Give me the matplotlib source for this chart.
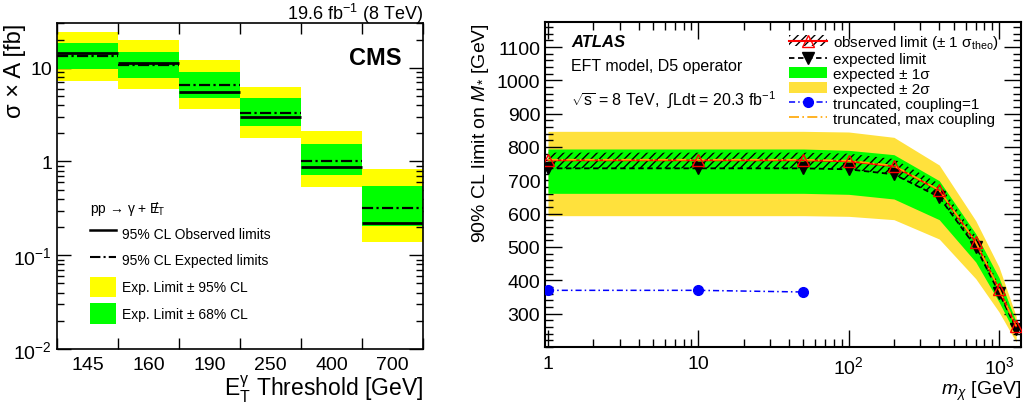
import matplotlib
matplotlib.use("Agg")
import matplotlib.pyplot as plt
import numpy as np
from matplotlib.lines import Line2D
from matplotlib.patches import Patch
from matplotlib.ticker import FixedLocator, FuncFormatter, MultipleLocator, LogLocator, NullFormatter

plt.rcParams['font.family'] = ['Liberation Sans', 'DejaVu Sans']
plt.rcParams['mathtext.fontset'] = 'custom'
plt.rcParams['mathtext.rm'] = 'Liberation Sans'
plt.rcParams['mathtext.it'] = 'Liberation Sans:italic'
plt.rcParams['mathtext.bf'] = 'Liberation Sans:bold'
plt.rcParams['hatch.linewidth'] = 1.0

# ---------------- CMS data ----------------
cms_thresholds = ["145", "160", "190", "250", "400", "700"]
cms_observed = [14.2, 11.1, 5.45, 3.0, 0.88, 0.223]
cms_expected = [13.3, 10.6, 6.5, 3.27, 1.0, 0.32]
cms_green_hi = [18.2, 14.8, 9.1, 4.7, 1.52, 0.545]
cms_green_lo = [9.6, 7.8, 4.7, 2.38, 0.72, 0.204]
cms_yellow_hi = [24.2, 19.7, 12.1, 6.3, 2.14, 0.84]
cms_yellow_lo = [7.3, 5.9, 3.6, 1.79, 0.53, 0.139]

# ---------------- ATLAS data ----------------
atlas_mchi = [1, 10, 50, 100, 200, 400, 700, 1000, 1300]
atlas_observed = [760, 760, 760, 757, 742, 670, 514, 373, 262]
atlas_theo_up = [783, 783, 783, 780, 764, 690, 532, 385, 270]
atlas_theo_dn = [736, 736, 736, 733, 717, 648, 497, 360, 252]
atlas_expected = [736, 736, 736, 733, 718, 650, 500, 363, 255]
atlas_green_hi = [794, 794, 794, 790, 777, 699, 540, 408, 275]
atlas_green_lo = [661, 661, 661, 658, 644, 582, 455, 335, 235]
atlas_yellow_hi = [847, 847, 847, 845, 829, 746, 579, 440, 292]
atlas_yellow_lo = [594, 594, 594, 592, 582, 524, 405, 305, 215]
trunc_c1_mchi = [1, 10, 50]
trunc_c1_vals = [370, 370, 365]
trunc_max_mchi = [1, 10, 50, 100, 200, 400, 700, 1000, 1300]
trunc_max_vals = [762, 762, 762, 759, 744, 671, 515, 374, 263]

W, H = 1030, 410
fig = plt.figure(figsize=(W / 100, H / 100), dpi=100)

# ================= Left: CMS =================
ax1 = fig.add_axes([57 / W, (H - 350) / H, 366 / W, 326 / H])
nb = len(cms_thresholds)
edges = np.arange(nb + 1)
CMS_YEL = '#ffff00'
CMS_GRN = '#00ff00'
CMS_DASH = (0, (5, 1.5, 1, 1.5))
for i in range(nb):
    ax1.fill_between([edges[i], edges[i + 1]], cms_yellow_lo[i], cms_yellow_hi[i],
                     color=CMS_YEL, lw=0, zorder=1)
    ax1.fill_between([edges[i], edges[i + 1]], cms_green_lo[i], cms_green_hi[i],
                     color=CMS_GRN, lw=0, zorder=2)
    ax1.hlines(cms_observed[i], edges[i], edges[i + 1], color='black', lw=2.0, zorder=4)
    ax1.hlines(cms_expected[i], edges[i], edges[i + 1], color='black', lw=1.6,
               linestyles=CMS_DASH, zorder=3)
ax1.set_yscale('log')
ax1.set_ylim(0.01, 30)
ax1.set_xlim(0, nb)
ax1.xaxis.set_major_locator(FixedLocator(edges))
ax1.xaxis.set_major_formatter(NullFormatter())
ax1.xaxis.set_minor_locator(FixedLocator(np.arange(nb) + 0.5))
ax1.set_xticklabels(cms_thresholds, minor=True)
ax1.tick_params(axis='x', which='major', direction='in', length=8, width=1, top=True, bottom=True)
ax1.tick_params(axis='x', which='minor', length=0, labelsize=14, pad=5)
ax1.yaxis.set_major_locator(FixedLocator([0.01, 0.1, 1, 10]))
ax1.yaxis.set_major_formatter(FuncFormatter(
    lambda v, p: {0.01: r'$10^{-2}$', 0.1: r'$10^{-1}$', 1: '1', 10: '10'}.get(round(v, 2), '')))
ax1.yaxis.set_minor_locator(LogLocator(base=10, subs=np.arange(2, 10)))
ax1.yaxis.set_minor_formatter(NullFormatter())
ax1.tick_params(axis='y', which='major', direction='in', length=10, width=1, left=True, right=True, labelsize=14)
ax1.tick_params(axis='y', which='minor', direction='in', length=5, width=1, left=True, right=True)
for s in ax1.spines.values():
    s.set_linewidth(1.2)
ax1.set_xlabel(r'E$_{\mathrm{T}}^{\mathrm{γ}}$ Threshold [GeV]', fontsize=16.5, loc='right', labelpad=0)
ax1.set_ylabel('σ × A [fb]', fontsize=17, loc='top')
ax1.yaxis.set_label_coords(-0.085, 1.0)
ax1.set_title(r'19.6 fb$^{-1}$ (8 TeV)', loc='right', fontsize=13, pad=3)
ax1.text(0.94, 0.93, 'CMS', transform=ax1.transAxes, fontsize=17, fontweight='bold',
         ha='right', va='top')

h_obs = Line2D([], [], color='black', lw=1.8)
h_exp = Line2D([], [], color='black', lw=1.5, ls=CMS_DASH)
h_y = Patch(facecolor=CMS_YEL, edgecolor='none')
h_g = Patch(facecolor=CMS_GRN, edgecolor='none')
leg1 = ax1.legend([h_obs, h_exp, h_y, h_g],
                  ['95% CL Observed limits', '95% CL Expected limits',
                   'Exp. Limit ± 95% CL', 'Exp. Limit ± 68% CL'],
                  title='pp → γ + E$\\!\\!\\!/_{\\mathrm{T}}$',
                  loc='lower left', bbox_to_anchor=(0.075, 0.06), frameon=False,
                  fontsize=10, title_fontsize=10, handlelength=1.9, handleheight=1.9,
                  labelspacing=0.45, handletextpad=0.4, borderaxespad=0)
leg1._legend_box.align = 'left'

# ================= Right: ATLAS =================
ax2 = fig.add_axes([545 / W, (H - 348) / H, 476 / W, 325 / H])
ATL_YEL = '#ffe13c'
ATL_GRN = '#00ff00'
OBS_DASH = (0, (3, 2))
C1_DASH = (0, (4, 2, 1, 2))
MAX_DASH = (0, (6, 2, 1, 2))
ax2.fill_between(atlas_mchi, atlas_yellow_lo, atlas_yellow_hi, color=ATL_YEL, lw=0, zorder=1)
ax2.fill_between(atlas_mchi, atlas_green_lo, atlas_green_hi, color=ATL_GRN, lw=0, zorder=2)
ax2.fill_between(atlas_mchi, atlas_theo_dn, atlas_theo_up, facecolor='none', edgecolor='black',
                 hatch='////', lw=0, zorder=3)
ax2.plot(atlas_mchi, atlas_expected, color='black', ls=OBS_DASH, lw=1.3, zorder=4)
ax2.plot(atlas_mchi, atlas_expected, ls='none', marker='v', ms=8, color='black', zorder=5)
ax2.plot(atlas_mchi, atlas_observed, color='red', lw=1.3, zorder=6)
ax2.plot(atlas_mchi, atlas_observed, ls='none', marker='^', ms=8.5, markerfacecolor='none',
         markeredgecolor='red', markeredgewidth=1.0, zorder=7)
ax2.plot(trunc_max_mchi, trunc_max_vals, color='#ffa500', ls=MAX_DASH, lw=1.2, zorder=6)
ax2.plot(trunc_c1_mchi, trunc_c1_vals, color='blue', ls=C1_DASH, lw=1.1,
         marker='o', ms=7, zorder=6)
ax2.set_xscale('log')
ax2.set_xlim(0.955, 1400)
ax2.set_ylim(200, 1175)
ax2.xaxis.set_major_locator(FixedLocator([1, 10, 100, 1000]))
ax2.xaxis.set_major_formatter(FuncFormatter(
    lambda v, p: {1: '1', 10: '10', 100: r'$10^{2}$', 1000: r'$10^{3}$'}.get(int(round(v)), '')))
ax2.xaxis.set_minor_locator(LogLocator(base=10, subs=np.arange(2, 10)))
ax2.xaxis.set_minor_formatter(NullFormatter())
ax2.yaxis.set_major_locator(FixedLocator([300, 400, 500, 600, 700, 800, 900, 1000, 1100]))
ax2.yaxis.set_minor_locator(MultipleLocator(20))
ax2.tick_params(axis='both', which='major', direction='in', length=12, width=1,
                top=True, right=True, labelsize=14)
ax2.tick_params(axis='both', which='minor', direction='in', length=6, width=1,
                top=True, right=True)
ax2.tick_params(axis='x', which='major', pad=6)
for s in ax2.spines.values():
    s.set_linewidth(1.5)
ax2.set_xlabel(r'$m_{\chi}$ [GeV]', fontsize=14, loc='right', labelpad=1)
ax2.set_ylabel(r'90% CL limit on $M_{*}$ [GeV]', fontsize=14, loc='top')
ax2.text(0.055, 0.94, 'ATLAS', transform=ax2.transAxes, fontsize=12, fontweight='bold',
         style='italic', ha='left', va='center')
ax2.text(0.055, 0.865, 'EFT model, D5 operator', transform=ax2.transAxes, fontsize=11.5,
         ha='left', va='center')
ax2.text(0.055, 0.766, r'$\sqrt{\mathrm{s}}$ = 8 TeV,  $\int$Ldt = 20.3 fb$^{-1}$',
         transform=ax2.transAxes, fontsize=11.5, ha='left', va='center')

h_o_patch = Patch(facecolor='none', edgecolor='black', hatch='////', lw=0)
h_o_line = Line2D([], [], color='red', lw=1.5, marker='^', ms=9, markerfacecolor='none',
                  markeredgecolor='red')
h_e = Line2D([], [], color='black', ls=OBS_DASH, lw=1.3, marker='v', ms=9)
h_g2 = Patch(facecolor=ATL_GRN, edgecolor='none')
h_y2 = Patch(facecolor=ATL_YEL, edgecolor='none')
h_c1 = Line2D([], [], color='blue', ls=C1_DASH, lw=1.1, marker='o', ms=7)
h_max = Line2D([], [], color='#ffa500', ls=MAX_DASH, lw=1.2)
ax2.legend([(h_o_patch, h_o_line), h_e, h_g2, h_y2, h_c1, h_max],
           [r'observed limit (± 1 $\mathrm{σ}_{\mathrm{theo}}$)', 'expected limit',
            'expected ± 1σ', 'expected ± 2σ',
            'truncated, coupling=1', 'truncated, max coupling'],
           loc='upper left', bbox_to_anchor=(0.5, 0.985), frameon=False, fontsize=11,
           handlelength=2.5, handleheight=0.7, labelspacing=0.06, handletextpad=0.4,
           borderaxespad=0)

fig.savefig('out.png', dpi=100)
